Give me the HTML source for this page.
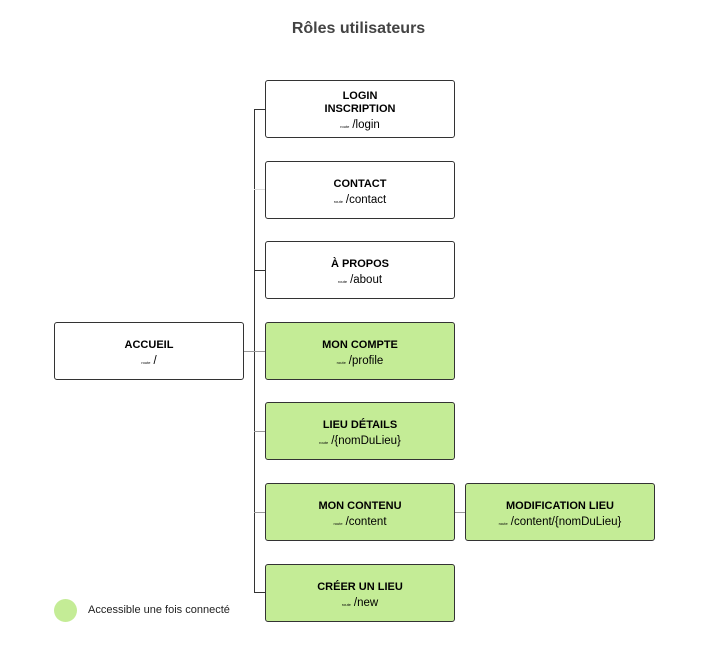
<!DOCTYPE html>
<html><head><style>
body{margin:0;width:717px;height:653px;background:#fff;font-family:"Liberation Sans",sans-serif;position:relative;overflow:hidden}
.t{position:absolute;left:0;width:717px;top:20px;text-align:center;font-weight:bold;font-size:16px;color:#444}
.b{position:absolute;width:190px;height:58px;border:1px solid #333;border-radius:3px;background:#fff;display:flex;flex-direction:column;justify-content:center;align-items:center;box-sizing:border-box;color:#000;padding-top:5px}
.g{background:#c4ec96}
.n{font-weight:bold;font-size:11px;line-height:13px;text-align:center}
.r{font-size:11.5px;margin-top:3px;line-height:13px}
.r small{font-size:4px;margin-right:3px}
.v{position:absolute;background:#333}
.l{position:absolute;background:#999}
</style></head><body>
<div class="t">Rôles utilisateurs</div>
<div class="v" style="left:254px;top:109px;width:1px;height:484px"></div>
<div class="v" style="left:254px;top:109px;width:11px;height:1px"></div>
<div class="l" style="left:254px;top:189px;width:11px;height:1px;background:#ddd"></div>
<div class="v" style="left:254px;top:270px;width:11px;height:1px"></div>
<div class="l" style="left:243px;top:351px;width:22px;height:1px"></div>
<div class="l" style="left:254px;top:431px;width:11px;height:1px"></div>
<div class="l" style="left:254px;top:512px;width:11px;height:1px"></div>
<div class="l" style="left:454px;top:512px;width:11px;height:1px"></div>
<div class="v" style="left:254px;top:592px;width:11px;height:1px"></div>

<div class="b" style="left:265px;top:80px"><div class="n">LOGIN<br>INSCRIPTION</div><div class="r"><small>route</small>/login</div></div>
<div class="b" style="left:265px;top:161px"><div class="n">CONTACT</div><div class="r"><small>route</small>/contact</div></div>
<div class="b" style="left:265px;top:241px"><div class="n">À PROPOS</div><div class="r"><small>route</small>/about</div></div>
<div class="b" style="left:54px;top:322px"><div class="n">ACCUEIL</div><div class="r"><small>route</small>/</div></div>
<div class="b g" style="left:265px;top:322px"><div class="n">MON COMPTE</div><div class="r"><small>route</small>/profile</div></div>
<div class="b g" style="left:265px;top:402px"><div class="n">LIEU DÉTAILS</div><div class="r"><small>route</small>/{nomDuLieu}</div></div>
<div class="b g" style="left:265px;top:483px"><div class="n">MON CONTENU</div><div class="r"><small>route</small>/content</div></div>
<div class="b g" style="left:465px;top:483px"><div class="n">MODIFICATION LIEU</div><div class="r"><small>route</small>/content/{nomDuLieu}</div></div>
<div class="b g" style="left:265px;top:564px"><div class="n">CRÉER UN LIEU</div><div class="r"><small>route</small>/new</div></div>

<div style="position:absolute;left:54px;top:599px;width:23px;height:23px;border-radius:50%;background:#c4ec96"></div>
<div style="position:absolute;left:88px;top:604px;font-size:11px;color:#222">Accessible une fois connecté</div>
</body></html>
